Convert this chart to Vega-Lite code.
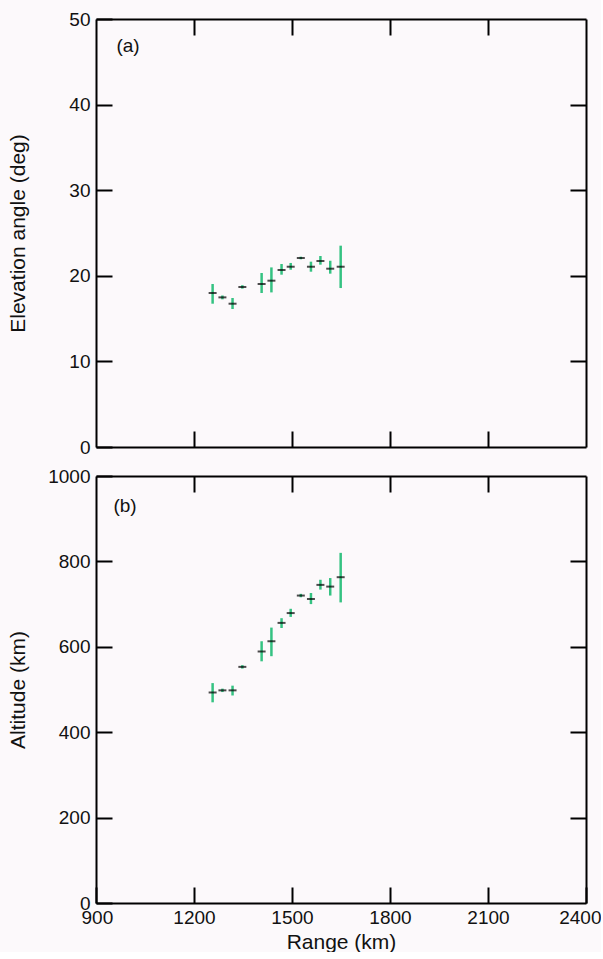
{
  "$schema": "https://vega.github.io/schema/vega-lite/v6.json",
  "background": "#fcf9fb",
  "autosize": {"type": "pad"},
  "padding": {"left": 7, "top": 10, "right": 0, "bottom": 0},
  "bounds": "flush",
  "data": {"values": [
    {"range": 1257, "elev": 17.99, "elevLo": 16.74, "elevHi": 19.04, "alt": 493, "altLo": 470, "altHi": 515},
    {"range": 1287, "elev": 17.48, "elevLo": 17.25, "elevHi": 17.7, "alt": 498, "altLo": 494, "altHi": 502},
    {"range": 1318, "elev": 16.74, "elevLo": 16.12, "elevHi": 17.41, "alt": 498, "altLo": 486, "altHi": 509},
    {"range": 1348, "elev": 18.69, "elevLo": 18.5, "elevHi": 18.9, "alt": 553, "altLo": 549, "altHi": 557},
    {"range": 1407, "elev": 19.04, "elevLo": 17.99, "elevHi": 20.33, "alt": 589, "altLo": 566, "altHi": 613},
    {"range": 1437, "elev": 19.43, "elevLo": 18.06, "elevHi": 20.98, "alt": 613, "altLo": 578, "altHi": 645},
    {"range": 1468, "elev": 20.68, "elevLo": 20.13, "elevHi": 21.38, "alt": 656, "altLo": 644, "altHi": 667},
    {"range": 1496, "elev": 21.06, "elevLo": 20.71, "elevHi": 21.5, "alt": 679, "altLo": 670, "altHi": 689},
    {"range": 1527, "elev": 22.08, "elevLo": 21.93, "elevHi": 22.23, "alt": 720, "altLo": 716, "altHi": 724},
    {"range": 1558, "elev": 21.06, "elevLo": 20.48, "elevHi": 21.65, "alt": 712, "altLo": 700, "altHi": 726},
    {"range": 1587, "elev": 21.73, "elevLo": 21.3, "elevHi": 22.31, "alt": 745, "altLo": 734, "altHi": 757},
    {"range": 1617, "elev": 20.83, "elevLo": 20.25, "elevHi": 21.76, "alt": 741, "altLo": 720, "altHi": 761},
    {"range": 1649, "elev": 21.06, "elevLo": 18.57, "elevHi": 23.52, "alt": 763, "altLo": 704, "altHi": 820}
  ]},
  "config": {
    "view": {"stroke": null},
    "font": "Liberation Sans",
    "axis": {
      "domainColor": "black", "domainWidth": 2,
      "tickColor": "black", "tickWidth": 2, "tickSize": -16,
      "grid": false,
      "labelFont": "Liberation Sans", "labelFontSize": 19, "labelColor": "#111", "labelPadding": 22,
      "titleFont": "Liberation Sans", "titleFontSize": 21, "titleFontWeight": "normal", "titleColor": "#111"
    }
  },
  "spacing": 29,
  "vconcat": [
    {
      "width": 490, "height": 428,
      "resolve": {"axis": {"x": "independent", "y": "independent"}},
      "layer": [
        {
          "mark": {"type": "rule", "color": "#35c282", "strokeWidth": 2.5},
          "encoding": {
            "x": {"field": "range", "type": "quantitative",
                  "scale": {"domain": [900, 2400], "nice": false, "zero": false},
                  "axis": {"orient": "bottom", "values": [1200, 1500, 1800, 2100], "labels": false, "title": null}},
            "y": {"field": "elevLo", "type": "quantitative",
                  "scale": {"domain": [0, 50], "nice": false},
                  "axis": {"orient": "left", "values": [0, 10, 20, 30, 40, 50], "format": "d", "title": "Elevation angle (deg)", "titleX": -68}},
            "y2": {"field": "elevHi"}
          }
        },
        {
          "mark": {"type": "tick", "orient": "horizontal", "color": "black", "size": 8, "thickness": 2},
          "encoding": {
            "x": {"field": "range", "type": "quantitative",
                  "axis": {"orient": "top", "values": [1200, 1500, 1800, 2100], "labels": false, "title": null}},
            "y": {"field": "elev", "type": "quantitative",
                  "axis": {"orient": "right", "values": [10, 20, 30, 40], "labels": false, "title": null}}
          }
        },
        {
          "data": {"values": [{"label": "(a)", "lx": 998, "ly": 46.8}]},
          "mark": {"type": "text", "fontSize": 19, "align": "center", "baseline": "middle", "color": "#111", "font": "Liberation Sans"},
          "encoding": {
            "x": {"field": "lx", "type": "quantitative", "axis": null},
            "y": {"field": "ly", "type": "quantitative", "axis": null},
            "text": {"field": "label"}
          }
        }
      ]
    },
    {
      "width": 490, "height": 427,
      "resolve": {"axis": {"x": "independent", "y": "independent"}},
      "layer": [
        {
          "mark": {"type": "rule", "color": "#35c282", "strokeWidth": 2.5},
          "encoding": {
            "x": {"field": "range", "type": "quantitative",
                  "scale": {"domain": [900, 2400], "nice": false, "zero": false},
                  "axis": {"orient": "bottom", "values": [900, 1200, 1500, 1800, 2100, 2400], "format": "d", "title": "Range (km)", "titlePadding": 4, "labelPadding": 21, "labelFlush": true, "labelFlushOffset": 15}},
            "y": {"field": "altLo", "type": "quantitative",
                  "scale": {"domain": [0, 1000], "nice": false},
                  "axis": {"orient": "left", "values": [0, 200, 400, 600, 800, 1000], "format": "d", "title": "Altitude (km)", "titleX": -68}},
            "y2": {"field": "altHi"}
          }
        },
        {
          "mark": {"type": "tick", "orient": "horizontal", "color": "black", "size": 8, "thickness": 2},
          "encoding": {
            "x": {"field": "range", "type": "quantitative",
                  "axis": {"orient": "top", "values": [1200, 1500, 1800, 2100], "labels": false, "title": null}},
            "y": {"field": "alt", "type": "quantitative",
                  "axis": {"orient": "right", "values": [200, 400, 600, 800], "labels": false, "title": null}}
          }
        },
        {
          "data": {"values": [{"label": "(b)", "lx": 989, "ly": 930}]},
          "mark": {"type": "text", "fontSize": 19, "align": "center", "baseline": "middle", "color": "#111", "font": "Liberation Sans"},
          "encoding": {
            "x": {"field": "lx", "type": "quantitative", "axis": null},
            "y": {"field": "ly", "type": "quantitative", "axis": null},
            "text": {"field": "label"}
          }
        }
      ]
    }
  ]
}
